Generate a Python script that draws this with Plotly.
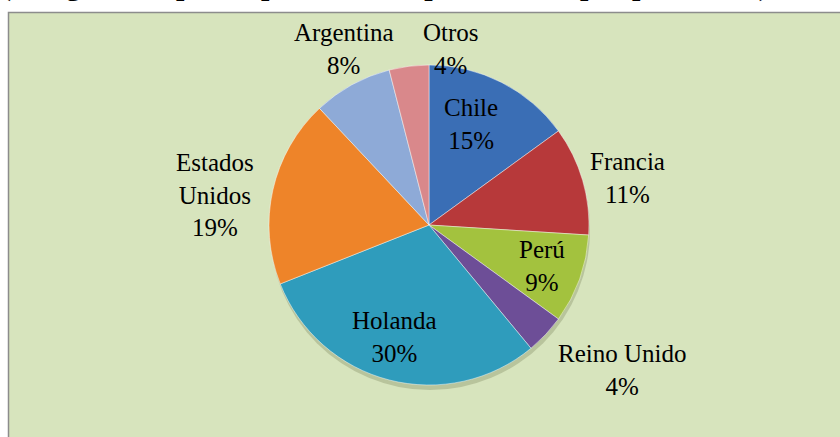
import math
import plotly.graph_objects as go

# ---- data ----
countries = ["Chile", "Francia", "Perú", "Reino Unido", "Holanda", "Estados Unidos", "Argentina", "Otros"]
label_text = ["Chile", "Francia", "Perú", "Reino Unido", "Holanda", "Estados<br>Unidos", "Argentina", "Otros"]
shares = [15, 11, 9, 4, 30, 19, 8, 4]
colors = ["#3A6EB5", "#B7393A", "#A3C23E", "#6D4E97", "#2F9CBC", "#EE8429", "#8EAAD7", "#D9888B"]
title_text = "(Kilogramos, participación de importaciones por país, 2012)"

# ---- layout constants (pixels) ----
W, H = 840, 437
CX, CY, R = 429, 225, 160
label_rfac = [0.68, 1.27, 0.75, 1.50, 0.72, 1.36, 1.23, 1.11]
label_dx = [-7, 3, 0, 18, -6, -2, 10, 44]
label_dy = [-4, 10, 0, -19, 0, 17, -4, 0]
SERIF = "Liberation Serif, Times New Roman, serif"

fig = go.Figure()

# soft shadow under the pie
fig.add_trace(go.Pie(
    values=[1], labels=[""], sort=False, textinfo="none", hoverinfo="skip", showlegend=False,
    marker=dict(colors=["rgba(90,100,60,0.25)"], line=dict(width=0)),
    domain=dict(x=[(CX - R + 1) / W, (CX + R + 1) / W],
                y=[(H - CY - R - 5) / H, (H - CY + R - 5) / H]),
))

fig.add_trace(go.Pie(
    labels=countries,
    values=shares,
    sort=False,
    direction="clockwise",
    rotation=0,
    marker=dict(colors=colors, line=dict(color="rgba(255,255,255,0.45)", width=1)),
    textinfo="none",
    hoverinfo="label+percent",
    showlegend=False,
    domain=dict(x=[(CX - R) / W, (CX + R) / W], y=[(H - CY - R) / H, (H - CY + R) / H]),
))

# labels positioned from the slice mid-angles
total = sum(shares)
cum = 0
for i, v in enumerate(shares):
    mid = (cum + v / 2) / total * 2 * math.pi
    cum += v
    r = R * label_rfac[i]
    px = CX + r * math.sin(mid) + label_dx[i]
    py = CY - r * math.cos(mid) + label_dy[i]
    fig.add_annotation(
        x=px / W, y=1 - py / H, xref="paper", yref="paper",
        text=f"{label_text[i]}<br>{round(v / total * 100)}%",
        showarrow=False, xanchor="center", yanchor="middle", align="center",
        font=dict(family=SERIF, size=25, color="#000000"),
    )

# clipped title at top (only the lowest part shows above the chart box)
fig.add_annotation(
    x=0.0, y=1 - 3 / H, xref="paper", yref="paper", xanchor="left", yanchor="bottom",
    text=f"<b>{title_text}</b>", showarrow=False, borderpad=0,
    font=dict(family=SERIF, size=30, color="#000000"),
)

fig.update_layout(
    width=W, height=H,
    margin=dict(l=0, r=0, t=0, b=0),
    paper_bgcolor="#FFFFFF",
    plot_bgcolor="#FFFFFF",
    shapes=[dict(
        type="rect", xref="paper", yref="paper", layer="below",
        x0=8.5 / W, x1=1.02, y0=-0.02, y1=1 - 12.5 / H,
        fillcolor="#D7E4BD", line=dict(color="#8C8C8C", width=1.5),
    )],
)

fig.write_html(
    "out.html",
    config={"displayModeBar": False},
    post_script="document.body.style.margin='0';document.body.style.overflow='hidden';",
)
